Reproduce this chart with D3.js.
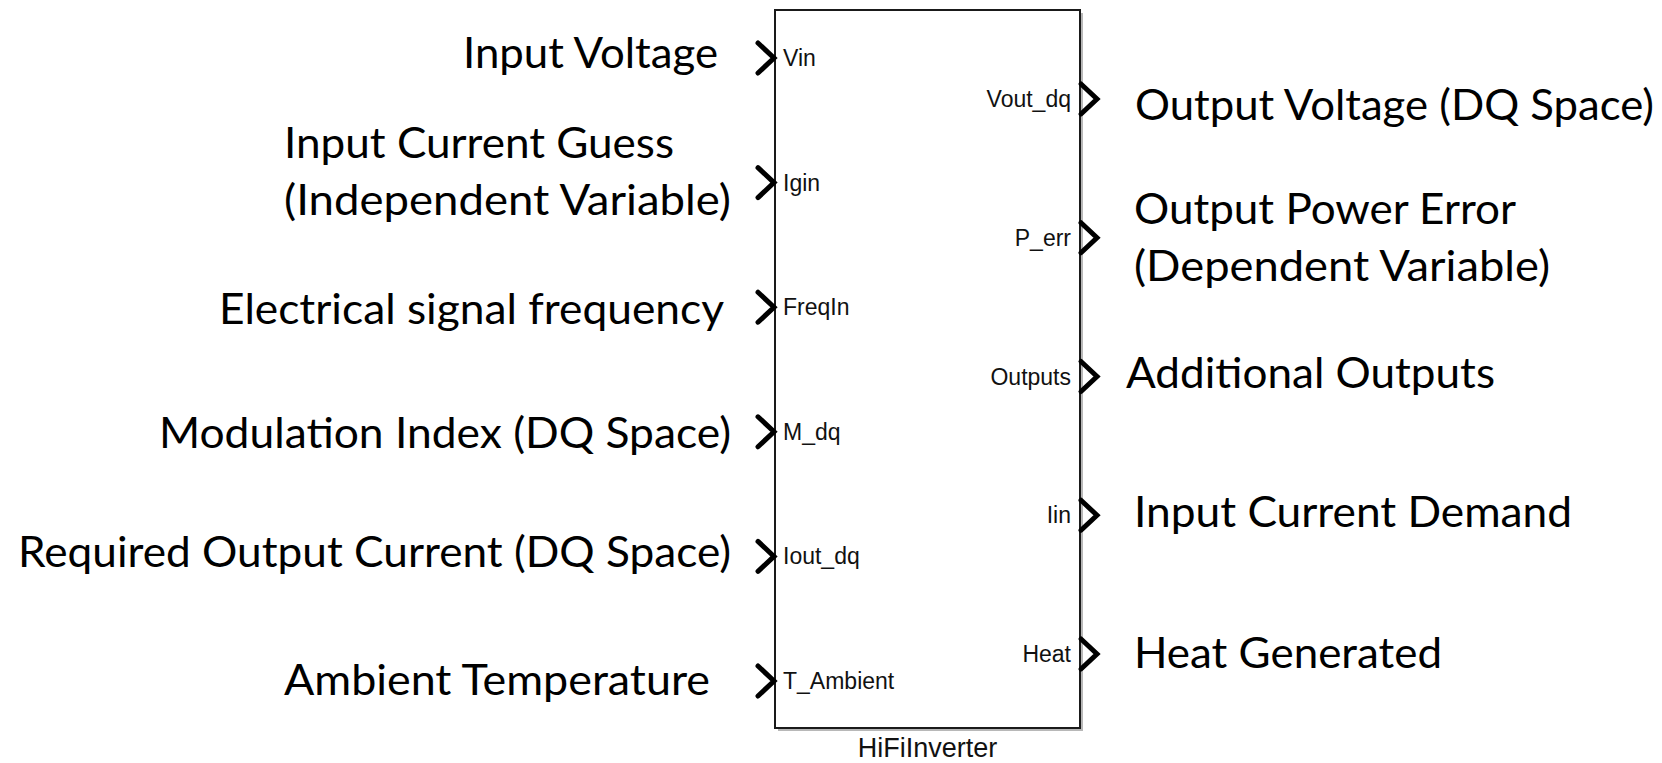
<!DOCTYPE html>
<html>
<head>
<meta charset="utf-8">
<script src="https://cdn.jsdelivr.net/npm/d3@7"></script>
<style>
  body { margin: 0; background: #fff; }
  .port { font-family: "Liberation Sans", Arial, sans-serif; font-size: 23px; fill: #111; }
  .note { font-family: Lato, "Open Sans", sans-serif; font-size: 43px; fill: #000; }
</style>
</head>
<body>
<svg id="chart" width="1662" height="763"></svg>
<script>
// block + ports
var blockName = "HiFiInverter";
var inputPorts = ["Vin", "Igin", "FreqIn", "M_dq", "Iout_dq", "T_Ambient"];
var outputPorts = ["Vout_dq", "P_err", "Outputs", "Iin", "Heat"];

// slide annotations, one entry per port (lines)
var inputNotes = [
  ["Input Voltage"],
  ["Input Current Guess", "(Independent Variable)"],
  ["Electrical signal frequency"],
  ["Modulation Index (DQ Space)"],
  ["Required Output Current (DQ Space)"],
  ["Ambient Temperature"]
];
var outputNotes = [
  ["Output Voltage (DQ Space)"],
  ["Output Power Error", "(Dependent Variable)"],
  ["Additional Outputs"],
  ["Input Current Demand"],
  ["Heat Generated"]
];

// hand placed text boxes: anchor x, baseline offset from port, line widths
var inputNoteLayout = [
  {anchor: "end", x: 718, dy: 10, w: [255]},
  {anchor: "start", x: 284, dy: -25, w: [390, 447]},
  {anchor: "end", x: 724, dy: 17, w: [505]},
  {anchor: "end", x: 731, dy: 16, w: [572]},
  {anchor: "end", x: 731, dy: 11, w: [713]},
  {anchor: "end", x: 710, dy: 14, w: [426]}
];
var outputNoteLayout = [
  {anchor: "start", x: 1135, dy: 21, w: [519]},
  {anchor: "start", x: 1134, dy: -14, w: [382, 416]},
  {anchor: "start", x: 1126, dy: 11, w: [369]},
  {anchor: "start", x: 1134, dy: 12, w: [438]},
  {anchor: "start", x: 1134, dy: 14, w: [308]}
];

var svg = d3.select("#chart");
var box = {x0: 775, x1: 1080, y0: 10, y1: 728};
var lineH = 57;

var yIn = d3.scalePoint().domain(inputPorts).range([58, 681]);
var yOut = d3.scalePoint().domain(outputPorts).range([99, 654]);

// shadow then block
svg.append("rect")
  .attr("x", box.x0 + 3).attr("y", box.y0 + 3)
  .attr("width", box.x1 - box.x0).attr("height", box.y1 - box.y0)
  .attr("fill", "#b8b8b8");
svg.append("rect")
  .attr("x", box.x0).attr("y", box.y0)
  .attr("width", box.x1 - box.x0).attr("height", box.y1 - box.y0)
  .attr("fill", "#fff")
  .attr("stroke", "#1a1a1a")
  .attr("stroke-width", 2);

svg.append("text")
  .attr("class", "port")
  .attr("x", (box.x0 + box.x1) / 2)
  .attr("y", 757)
  .attr("text-anchor", "middle")
  .style("font-size", "27px")
  .text(blockName);

function chevron(x, y) {
  return "M" + (x - 16) + "," + (y - 15) + "L" + x + "," + y + "L" + (x - 16) + "," + (y + 15);
}

// input ports
var inp = svg.selectAll(".inport").data(inputPorts).enter()
  .append("g").attr("class", "inport");
inp.append("path")
  .attr("d", function(d) { return chevron(box.x0 - 1, yIn(d)); })
  .attr("fill", "none").attr("stroke", "#000")
  .attr("stroke-width", 5).attr("stroke-linecap", "round");
inp.append("text")
  .attr("class", "port")
  .attr("x", box.x0 + 8)
  .attr("y", function(d) { return yIn(d); })
  .attr("dy", "0.35em")
  .text(function(d) { return d; });

// output ports
var outp = svg.selectAll(".outport").data(outputPorts).enter()
  .append("g").attr("class", "outport");
outp.append("path")
  .attr("d", function(d) { return chevron(box.x1 + 17, yOut(d)); })
  .attr("fill", "none").attr("stroke", "#000")
  .attr("stroke-width", 5).attr("stroke-linecap", "round");
outp.append("text")
  .attr("class", "port")
  .attr("x", box.x1 - 9)
  .attr("y", function(d) { return yOut(d); })
  .attr("dy", "0.35em")
  .attr("text-anchor", "end")
  .text(function(d) { return d; });

// annotations
function notes(ports, lines, layout, yScale) {
  ports.forEach(function(p, i) {
    var l = layout[i];
    lines[i].forEach(function(s, j) {
      svg.append("text")
        .attr("class", "note")
        .attr("text-anchor", l.anchor)
        .attr("x", l.x)
        .attr("y", yScale(p) + l.dy + j * lineH)
        .attr("textLength", l.w[j])
        .attr("lengthAdjust", "spacingAndGlyphs")
        .text(s);
    });
  });
}
notes(inputPorts, inputNotes, inputNoteLayout, yIn);
notes(outputPorts, outputNotes, outputNoteLayout, yOut);
</script>
</body>
</html>
